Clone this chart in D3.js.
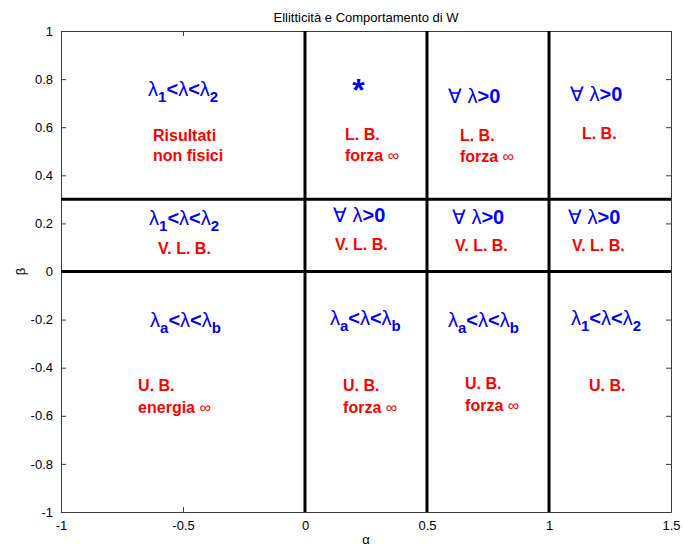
<!DOCTYPE html>
<html>
<head>
<meta charset="utf-8">
<script src="https://cdn.jsdelivr.net/npm/d3@7"></script>
<style>
  html, body { margin: 0; padding: 0; background: #fff; }
  svg { display: block; }
  text { font-family: Arial, "Liberation Sans", Helvetica, sans-serif; }
</style>
</head>
<body>
<div id="chart"></div>
<script>
// Axis ranges and ticks
const xDomain = [-1, 1.5];
const yDomain = [-1, 1];
const xTicks = [-1, -0.5, 0, 0.5, 1, 1.5];
const yTicks = [-1, -0.8, -0.6, -0.4, -0.2, 0, 0.2, 0.4, 0.6, 0.8, 1];

// Region boundaries in the (alpha, beta) plane
const alphaBounds = [0, 0.5, 1];
const betaBounds = [0, 0.3];

// Region annotations: eigenvalue conditions (blue)
const lambdaLabels = [
  { t: "λ_1<λ<λ_2", a: -0.643, b: 0.730 },
  { t: "∀ λ>0",     a: 0.586,  b: 0.700 },
  { t: "∀ λ>0",     a: 1.086,  b: 0.709 },
  { t: "λ_1<λ<λ_2", a: -0.639, b: 0.193 },
  { t: "∀ λ>0",     a: 0.115,  b: 0.206 },
  { t: "∀ λ>0",     a: 0.602,  b: 0.198 },
  { t: "∀ λ>0",     a: 1.078,  b: 0.198 },
  { t: "λ_a<λ<λ_b", a: -0.635, b: -0.231 },
  { t: "λ_a<λ<λ_b", a: 0.102,  b: -0.222 },
  { t: "λ_a<λ<λ_b", a: 0.586,  b: -0.231 },
  { t: "λ_1<λ<λ_2", a: 1.090,  b: -0.222 }
];

// Region annotations: boundary-layer behaviour (red)
const behaviourLabels = [
  { t: "Risultati",  a: -0.623, b: 0.543 },
  { t: "non fisici", a: -0.623, b: 0.459 },
  { t: "L. B.",      a: 0.164,  b: 0.547 },
  { t: "forza ∞",    a: 0.164,  b: 0.459 },
  { t: "L. B.",      a: 0.635,  b: 0.543 },
  { t: "forza ∞",    a: 0.635,  b: 0.455 },
  { t: "L. B.",      a: 1.135,  b: 0.551 },
  { t: "V. L. B.",   a: -0.602, b: 0.073 },
  { t: "V. L. B.",   a: 0.123,  b: 0.089 },
  { t: "V. L. B.",   a: 0.615,  b: 0.085 },
  { t: "V. L. B.",   a: 1.094,  b: 0.085 },
  { t: "U. B.",      a: -0.684, b: -0.497 },
  { t: "energia ∞",  a: -0.684, b: -0.588 },
  { t: "U. B.",      a: 0.156,  b: -0.497 },
  { t: "forza ∞",    a: 0.156,  b: -0.588 },
  { t: "U. B.",      a: 0.656,  b: -0.489 },
  { t: "forza ∞",    a: 0.656,  b: -0.580 },
  { t: "U. B.",      a: 1.164,  b: -0.497 }
];

// Special point marker
const starMark = { t: "*", a: 0.219, b: 0.775 };

const W = 683, H = 546;
const margin = { left: 61, right: 12, top: 31, bottom: 34 };

const svg = d3.select("#chart").append("svg")
  .attr("width", W).attr("height", H);

const x = d3.scaleLinear().domain(xDomain).range([margin.left, W - margin.right]);
const y = d3.scaleLinear().domain(yDomain).range([H - margin.bottom, margin.top]);

const axisColor = "#3c3c3c";
const tickLen = 5;

// Axes (ticks drawn inward, mirrored on top/right)
const gx = svg.append("g").attr("transform", `translate(0,${y(-1)})`)
  .call(d3.axisBottom(x).tickValues(xTicks).tickSizeInner(-tickLen).tickSizeOuter(0)
    .tickPadding(9).tickFormat(d => String(d)));
const gxTop = svg.append("g").attr("transform", `translate(0,${y(1)})`)
  .call(d3.axisTop(x).tickValues(xTicks).tickSizeInner(-tickLen).tickSizeOuter(0).tickFormat(""));
const gy = svg.append("g").attr("transform", `translate(${x(-1)},0)`)
  .call(d3.axisLeft(y).tickValues(yTicks).tickSizeInner(-tickLen).tickSizeOuter(0)
    .tickPadding(8).tickFormat(d => String(d)));
const gyRight = svg.append("g").attr("transform", `translate(${x(1.5)},0)`)
  .call(d3.axisRight(y).tickValues(yTicks).tickSizeInner(-tickLen).tickSizeOuter(0).tickFormat(""));

[gx, gxTop, gy, gyRight].forEach(g => {
  g.select(".domain").attr("stroke", axisColor).attr("stroke-width", 1);
  g.selectAll(".tick line").attr("stroke", axisColor);
  g.selectAll(".tick text").attr("fill", "#000").style("font-size", "13px")
    .style("font-family", "Arial, 'Liberation Sans', sans-serif");
});
gxTop.selectAll(".tick text").remove();
gyRight.selectAll(".tick text").remove();
gx.selectAll(".tick text").attr("dy", "0.71em");

// Region boundary lines
svg.append("g").selectAll("line.v").data(alphaBounds).join("line")
  .attr("x1", d => x(d)).attr("x2", d => x(d))
  .attr("y1", y(-1)).attr("y2", y(1))
  .attr("stroke", "#000").attr("stroke-width", 3);
svg.append("g").selectAll("line.h").data(betaBounds).join("line")
  .attr("x1", x(-1)).attr("x2", x(1.5))
  .attr("y1", d => y(d)).attr("y2", d => y(d))
  .attr("stroke", "#000").attr("stroke-width", 3);

// Renders a string with greek/math symbols in regular weight and _x as subscript
const symbolChars = new Set(["λ", "∀", "∞"]);
function richText(sel, str, subSize, subShift) {
  let i = 0;
  let pendingDy = 0;
  const add = () => {
    const ts = sel.append("tspan");
    if (pendingDy) { ts.attr("dy", pendingDy); pendingDy = 0; }
    return ts;
  };
  while (i < str.length) {
    const c = str[i];
    if (c === "_") {
      add().attr("dy", subShift).style("font-size", subSize + "px").text(str[i + 1]);
      pendingDy = -subShift;
      i += 2;
    } else if (symbolChars.has(c)) {
      add().style("font-weight", "normal").text(c);
      i += 1;
    } else {
      let j = i;
      while (j < str.length && str[j] !== "_" && !symbolChars.has(str[j])) j++;
      add().text(str.slice(i, j));
      i = j;
    }
  }
}

const labelLayer = svg.append("g");
lambdaLabels.forEach(d => {
  const t = labelLayer.append("text")
    .attr("x", x(d.a)).attr("y", y(d.b))
    .attr("fill", "#0000ff").style("font-size", "20px").style("font-weight", "bold");
  richText(t, d.t, 15, 6);
});
behaviourLabels.forEach(d => {
  const t = labelLayer.append("text")
    .attr("x", x(d.a)).attr("y", y(d.b))
    .attr("fill", "#ff0000").style("font-size", "16px").style("font-weight", "bold");
  richText(t, d.t, 12, 5);
});
labelLayer.append("text")
  .attr("x", x(starMark.a)).attr("y", y(starMark.b) + 16)
  .attr("text-anchor", "middle")
  .attr("fill", "#0000ff").style("font-size", "32px").style("font-weight", "bold")
  .text(starMark.t);

// Title and axis labels
svg.append("text").attr("x", (x(-1) + x(1.5)) / 2).attr("y", 22)
  .attr("text-anchor", "middle").style("font-size", "13px").attr("fill", "#000")
  .text("Ellitticità e Comportamento di W");
svg.append("text").attr("x", (x(-1) + x(1.5)) / 2).attr("y", 544)
  .attr("text-anchor", "middle").style("font-size", "13px").attr("fill", "#000")
  .text("α");
svg.append("text")
  .attr("transform", `translate(25,${(y(-1) + y(1)) / 2}) rotate(-90)`)
  .attr("text-anchor", "middle").style("font-size", "13px").attr("fill", "#000")
  .text("β");
</script>
</body>
</html>
